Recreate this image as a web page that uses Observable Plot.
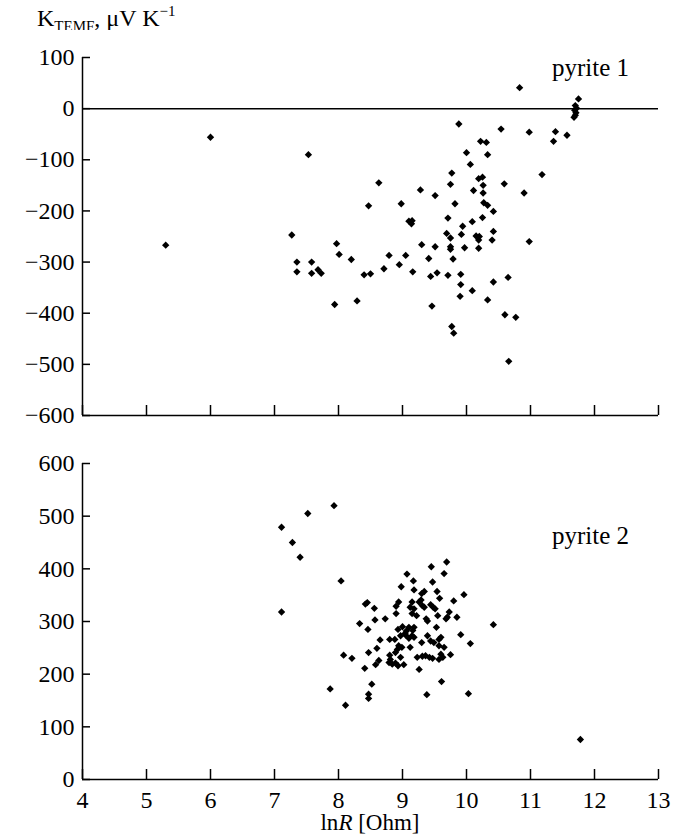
<!DOCTYPE html>
<html><head><meta charset="utf-8">
<script src="https://cdn.jsdelivr.net/npm/d3@7"></script>
<script src="https://cdn.jsdelivr.net/npm/@observablehq/plot@0.6"></script>
<style>
body{margin:0;background:#fff;}
#wrap{position:relative;width:682px;height:836px;font-family:"Liberation Serif","Times New Roman",serif;color:#000;background:#fff;}
#title{position:absolute;left:37px;top:6px;font-size:24px;line-height:24px;white-space:nowrap;}
#title .sub{font-size:15px;position:relative;top:5px;}
#title .sup{font-size:15px;position:relative;top:-10px;}
#topPanel{position:absolute;left:0;top:30px;}
#botPanel{position:absolute;left:0;top:430px;}
#xlabel{position:absolute;left:82px;width:576px;top:811px;text-align:center;font-size:23px;line-height:23px;white-space:nowrap;}
</style></head><body>
<div id="wrap">
  <div id="title">K<span class="sub">TEMF</span>, μV K<span class="sup">−1</span></div>
  <div id="topPanel"></div>
  <div id="botPanel"></div>
  <div id="xlabel">ln<i>R</i> [Ohm]</div>
</div>
<script>
// x axis ticks (ln R, Ohm)
const xTicks = [4, 5, 6, 7, 8, 9, 10, 11, 12, 13];
// y ticks
const topYTicks = [100, 0, -100, -200, -300, -400, -500, -600];
const botYTicks = [0, 100, 200, 300, 400, 500, 600];
const panelLabels = ["pyrite 1", "pyrite 2"];

// pyrite 1: ln R and K_TEMF
const p1LnR = [6.00, 7.53, 8.63, 8.47, 7.27, 5.30, 7.97, 8.01, 8.20, 7.35, 7.58, 7.35, 7.58, 7.68, 7.73, 8.40, 8.50, 7.94, 8.29,
  10.83, 11.75, 11.70, 11.72, 11.69, 11.71, 11.70, 11.68,
  9.88, 10.54, 10.98, 11.39, 11.57, 11.36, 10.22, 10.31, 10.00, 10.33, 10.06, 9.77, 11.18, 10.19, 10.25, 9.75, 10.26, 10.59, 9.28,
  10.90, 9.51, 10.11, 10.26, 8.98, 9.82, 10.27, 10.33, 10.42, 9.10, 9.15, 9.14, 9.71, 9.94, 10.09, 10.25,
  9.69, 9.75, 9.92, 10.15, 10.20, 10.19, 10.42, 10.40, 10.98, 9.30, 9.51, 9.75, 9.75, 9.97, 10.19,
  8.79, 9.05, 9.41, 9.79, 8.95, 8.71, 9.16, 9.44, 9.54, 9.71, 9.91, 9.91, 10.09, 9.90, 10.42, 10.65, 10.33,
  9.46, 10.60, 10.77, 9.77, 9.80, 10.66];
const p1K = [-56, -90, -145, -190, -247, -267, -264, -285, -295, -300, -300, -319, -322, -315, -322, -325, -323, -383, -376,
  41, 19, 6, 1, -3, -8, -13, -17,
  -30, -40, -46, -45, -52, -64, -64, -66, -86, -90, -109, -126, -129, -137, -134, -148, -150, -147, -159,
  -165, -170, -160, -165, -186, -186, -184, -189, -201, -220, -219, -225, -214, -230, -221, -213,
  -244, -253, -246, -249, -250, -257, -240, -257, -260, -266, -270, -270, -275, -272, -273,
  -287, -287, -293, -294, -305, -313, -319, -328, -321, -326, -324, -344, -356, -367, -339, -330, -374,
  -386, -403, -408, -426, -439, -494];

// pyrite 2: ln R and K_TEMF
const p2LnR = [7.93, 7.52, 7.11, 7.28, 7.40, 8.04, 7.11,
  7.87, 8.11, 8.08, 11.78, 10.42, 10.03, 9.38,
  9.69, 9.45, 9.07, 9.65, 9.47, 9.17, 8.98, 9.18,
  9.34, 9.30, 9.54, 9.96, 9.58, 9.80, 9.29, 9.26,
  9.15, 9.12, 8.94, 8.90, 8.42, 8.45,
  8.56, 9.31, 9.34, 9.44, 9.48, 9.51, 9.18, 9.22,
  9.55, 8.90, 9.15, 9.37, 9.39, 9.73, 9.70, 9.68,
  9.85, 8.57, 8.73, 8.33, 8.46, 9.53, 9.18, 9.16,
  8.93, 9.00, 9.06, 9.10, 9.04,
  9.39, 9.91, 8.80, 8.65, 8.60, 8.47, 8.21, 8.63,
  8.58, 8.41, 8.80, 8.81, 8.79, 8.84, 8.89, 8.93,
  9.02, 8.88, 8.97, 9.05, 9.10, 9.15, 8.94, 8.99,
  8.92, 8.89, 9.12, 8.52, 8.47, 8.47,
  9.18, 9.30, 9.44, 9.49, 9.57, 9.60, 9.57, 9.65,
  10.06, 9.75, 9.60, 9.63, 9.57, 9.23, 9.31, 9.36,
  9.42, 9.47, 9.26, 9.61, 8.97];
const p2K = [520, 505, 479, 450, 422, 377, 318,
  172, 141, 236, 76, 294, 163, 161,
  413, 404, 390, 391, 375, 377, 366, 360,
  357, 353, 357, 351, 344, 339, 341, 337,
  337, 327, 337, 329, 333, 336,
  325, 330, 327, 332, 327, 324, 324, 311,
  311, 315, 315, 305, 301, 318, 308, 305,
  308, 303, 305, 296, 285, 289, 289, 283,
  285, 290, 282, 289, 277,
  273, 275, 266, 265, 249, 241, 230, 226,
  218, 211, 236, 228, 222, 219, 221, 216,
  218, 266, 273, 274, 268, 273, 254, 251,
  247, 241, 251, 181, 162, 154,
  270, 260, 263, 260, 266, 270, 254, 251,
  258, 237, 238, 232, 228, 232, 234, 235,
  232, 230, 209, 186, 232];

const p1 = p1LnR.map((v, i) => ({lnR: v, k: p1K[i]}));
const p2 = p2LnR.map((v, i) => ({lnR: v, k: p2K[i]}));

const font = '"Liberation Serif", "Times New Roman", serif';
const common = {
  width: 682,
  marginLeft: 82,
  marginRight: 24,
  style: {fontFamily: font, fontSize: "24px", color: "black", background: "white", overflow: "visible"},
  x: {domain: [xTicks[0], xTicks[xTicks.length - 1]]}
};
const sw = 1.5;
const dotR = 3.3;

const topPlot = Plot.plot({
  ...common,
  height: 388,
  marginTop: 27,
  marginBottom: 3,
  y: {domain: [topYTicks[topYTicks.length - 1], topYTicks[0]]},
  marks: [
    Plot.ruleY([0], {stroke: "black", strokeWidth: sw}),
    Plot.ruleX([xTicks[0]], {stroke: "black", strokeWidth: sw}),
    Plot.ruleY([topYTicks[topYTicks.length - 1]], {stroke: "black", strokeWidth: sw}),
    Plot.axisY(topYTicks, {tickSize: -8, tickPadding: 16, strokeWidth: sw, label: null, fontSize: 24}),
    Plot.axisX(xTicks, {tickSize: -10, tickFormat: () => "", strokeWidth: sw, label: null}),
    Plot.dot(p1, {x: "lnR", y: "k", symbol: "diamond2", r: dotR, fill: "black", stroke: "none"}),
    Plot.text([panelLabels[0]], {text: d => d, frameAnchor: "top-right", dx: -68, dy: 10, textAnchor: "middle", lineAnchor: "middle", fontSize: 25})
  ]
});
document.getElementById("topPanel").appendChild(topPlot);

const botPlot = Plot.plot({
  ...common,
  height: 406,
  marginTop: 33,
  marginBottom: 57,
  y: {domain: [botYTicks[0], botYTicks[botYTicks.length - 1]]},
  marks: [
    Plot.ruleX([xTicks[0]], {stroke: "black", strokeWidth: sw}),
    Plot.ruleY([botYTicks[0]], {stroke: "black", strokeWidth: sw}),
    Plot.axisY(botYTicks, {tickSize: -8, tickPadding: 16, strokeWidth: sw, label: null, fontSize: 24}),
    Plot.axisX(xTicks, {tickSize: -10, tickPadding: 21, strokeWidth: sw, label: null, fontSize: 24}),
    Plot.dot(p2, {x: "lnR", y: "k", symbol: "diamond2", r: dotR, fill: "black", stroke: "none"}),
    Plot.text([panelLabels[1]], {text: d => d, frameAnchor: "top-right", dx: -68, dy: 72, textAnchor: "middle", lineAnchor: "middle", fontSize: 25})
  ]
});
document.getElementById("botPanel").appendChild(botPlot);
</script>
</body></html>
